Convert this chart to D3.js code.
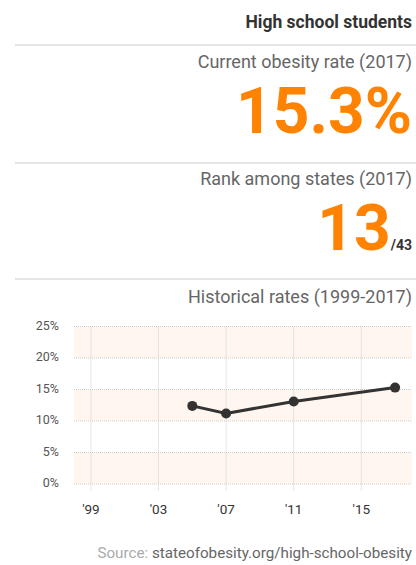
<!DOCTYPE html>
<html>
<head>
<meta charset="utf-8">
<script src="https://cdn.jsdelivr.net/npm/d3@7"></script>
<style>
  body { margin: 0; background: #fff; font-family: Roboto, sans-serif; }
  svg text { font-family: Roboto, sans-serif; }
</style>
</head>
<body>
<svg id="chart" width="416" height="565"></svg>
<script>
var years = [2005, 2007, 2011, 2017];
var rates = [12.4, 11.2, 13.1, 15.3];
var yTicks = [0, 5, 10, 15, 20, 25];
var xTicks = [1999, 2003, 2007, 2011, 2015];
var bands = [[0, 5], [10, 15], [20, 25]];

var width = 416;
var right = 412;
var orange = '#ff8200';

var svg = d3.select('#chart');

// header block
svg.append('text')
    .attr('x', right).attr('y', 28)
    .attr('text-anchor', 'end')
    .style('font-size', '17.5px').style('font-weight', 'bold').style('fill', '#333')
    .text('High school students');

[45, 163, 279].forEach(function(y) {
  svg.append('line')
      .attr('x1', 15).attr('x2', width)
      .attr('y1', y).attr('y2', y)
      .style('stroke', '#ddd').style('stroke-width', 1.5);
});

svg.append('text')
    .attr('x', right).attr('y', 68)
    .attr('text-anchor', 'end')
    .style('font-size', '18px').style('fill', '#666')
    .text('Current obesity rate (2017)');

svg.append('text')
    .attr('x', right).attr('y', 133)
    .attr('text-anchor', 'end')
    .style('font-size', '64px').style('font-weight', 'bold').style('fill', orange)
    .text('15.3%');

svg.append('text')
    .attr('x', right).attr('y', 185)
    .attr('text-anchor', 'end')
    .style('font-size', '18px').style('fill', '#666')
    .text('Rank among states (2017)');

var rank = svg.append('text')
    .attr('x', right).attr('y', 250)
    .attr('text-anchor', 'end');
rank.append('tspan')
    .style('font-size', '64px').style('font-weight', 'bold').style('fill', orange)
    .text('13');
rank.append('tspan')
    .style('font-size', '14px').style('font-weight', 'bold').style('fill', '#333')
    .text('/43');

svg.append('text')
    .attr('x', right).attr('y', 303)
    .attr('text-anchor', 'end')
    .style('font-size', '18px').style('fill', '#666')
    .text('Historical rates (1999-2017)');

// line chart
var x = d3.scaleLinear().domain([1998, 2018]).range([74, 412]);
var y = d3.scaleLinear().domain([0, 25]).range([484, 326.5]);

var plot = svg.append('g');

plot.selectAll('rect.band')
    .data(bands)
    .join('rect')
    .attr('class', 'band')
    .attr('x', x(1998))
    .attr('width', x(2018) - x(1998))
    .attr('y', d => y(d[1]))
    .attr('height', d => y(d[0]) - y(d[1]))
    .style('fill', '#fff7ef');

plot.selectAll('line.hgrid')
    .data(yTicks)
    .join('line')
    .attr('class', 'hgrid')
    .attr('x1', x(1998)).attr('x2', x(2018))
    .attr('y1', d => y(d)).attr('y2', d => y(d))
    .style('stroke', '#ccc').style('stroke-dasharray', '1,1');

plot.selectAll('line.vgrid')
    .data(xTicks)
    .join('line')
    .attr('class', 'vgrid')
    .attr('x1', d => x(d)).attr('x2', d => x(d))
    .attr('y1', y(25)).attr('y2', y(0) + 7)
    .style('stroke', '#ccc').style('stroke-dasharray', '1,1');

plot.selectAll('text.ylab')
    .data(yTicks)
    .join('text')
    .attr('class', 'ylab')
    .attr('x', 59)
    .attr('y', d => y(d))
    .attr('dy', '0.25em')
    .attr('text-anchor', 'end')
    .style('font-size', '12.5px').style('fill', '#555')
    .text(d => d + '%');

plot.selectAll('text.xlab')
    .data(xTicks)
    .join('text')
    .attr('class', 'xlab')
    .attr('x', d => x(d))
    .attr('y', 514)
    .attr('text-anchor', 'middle')
    .style('font-size', '13.5px').style('fill', '#333')
    .text(d => "'" + String(d).slice(2));

var points = years.map((yr, i) => [yr, rates[i]]);

plot.append('path')
    .datum(points)
    .attr('d', d3.line().x(d => x(d[0])).y(d => y(d[1])))
    .style('fill', 'none').style('stroke', '#333').style('stroke-width', 3);

plot.selectAll('circle.dot')
    .data(points)
    .join('circle')
    .attr('class', 'dot')
    .attr('cx', d => x(d[0]))
    .attr('cy', d => y(d[1]))
    .attr('r', 5)
    .style('fill', '#333');

// source
var src = svg.append('text')
    .attr('x', right).attr('y', 558)
    .attr('text-anchor', 'end')
    .style('font-size', '15.2px');
src.append('tspan').style('fill', '#aaa').text('Source: ');
src.append('tspan').style('fill', '#666').text('stateofobesity.org/high-school-obesity');
</script>
</body>
</html>
